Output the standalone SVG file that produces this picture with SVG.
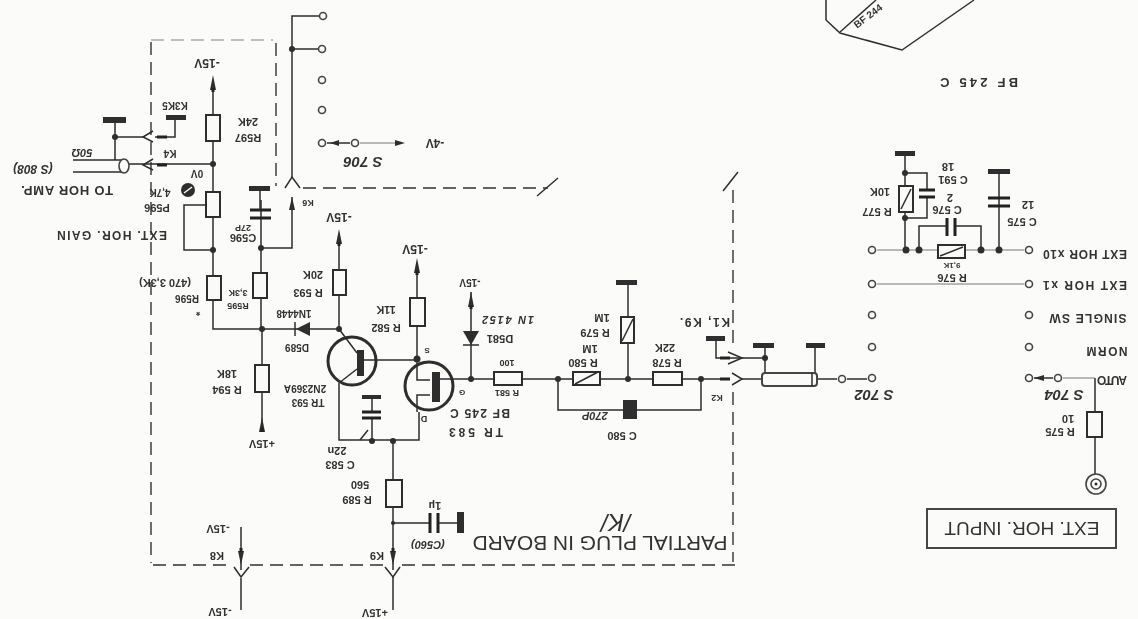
<svg xmlns="http://www.w3.org/2000/svg" width="1138" height="619" viewBox="0 0 1138 619">
<style>
text{font-family:"Liberation Sans",Arial,sans-serif;font-size:11px;fill:#333;text-anchor:middle;dominant-baseline:central}
.b{font-weight:bold}
.w{fill:none;stroke:#2e2e2e;stroke-width:1.5}
.f{fill:none;stroke:#777;stroke-width:1}
.r{fill:#fafaf8;stroke:#2e2e2e;stroke-width:2}
.c{fill:#fafaf8;stroke:#444;stroke-width:1.6}
.g{fill:#2e2e2e}
.d{fill:none;stroke:#333;stroke-width:1.4;stroke-dasharray:13 7}
.p{fill:none;stroke:#222;stroke-width:3}
</style>
<defs>
<filter id="scan" x="0" y="0" width="100%" height="100%"><feGaussianBlur stdDeviation="0.45"/></filter>
</defs>
<rect width="1138" height="619" fill="#fbfbf9"/>
<g filter="url(#scan)">
<g id="board-outline">
<path class="d" style="stroke:#aaa" d="M151 40H273"/>
<path class="d" d="M151 42V563M276 43V186M303 188H548M733 190V345M733 392V562M153 565H232M250 565H385M402 565H735"/>
<path class="w" d="M537 196L558 178M723 191L738 172"/>
</g>
<g id="connectors">
<path class="w" d="M323 16H292V178M292 49H322"/>
<path class="w" d="M285 188L292 177L300 188"/>
<path class="w" d="M292 197V248H261M261 200V273M261 298V329"/>
<path class="w" d="M213 85V115M213 141V192M213 217V276M213 300V329H339M262 329V365M262 392V425"/>
<path class="w" d="M128 164H213M115 120V160M115 137H145M155 137H175V117"/>
<path class="w" d="M219 205H184V250H213"/>
<path class="w" d="M339 240V270M339 295V329"/>
<path class="w" d="M417 270V298M417 326V380H430M417 412V395H430M419 412V440H339V383M339 329L357 353M357 369L339 383"/>
<path class="w" d="M364 360H417"/>
<path class="w" d="M372 418V440M393 440V480M393 507V570M393 577V610M393 523H430M438 523H458"/>
<path class="w" d="M241 527V570M241 578V610"/>
<path class="w" d="M440 379H494M522 379H573M600 379H653M682 379H722M471 292V379"/>
<path class="w" d="M558 379V410H623M637 410H701V379"/>
<path class="w" d="M628 282V317M628 343V379"/>
<path class="w" d="M716 338V358H742M742 358H765M765 345V373M815 345V373M742 379H762M817 379H837M847 379H867"/>
<path class="f" d="M877 250H1024M877 284H1024"/>
<path class="w" d="M905 153V186M905 212V250M905 173H927V190M905 218H927V197M919 250V226H947M955 226H981V250M999 171V250"/>
<path class="w" d="M1095 378V412M1095 437V474M1034 378H1053"/>
<path class="f" d="M1063 378H1095M360 143H398"/>
<path class="w" d="M327 143H350"/>
</g>
<g id="arrows">
<path class="g" d="M213 75L216 90H210Z M339 229L342 244H336Z M417 258L420 273H414Z M471 292L474 307H468Z M262 417L265 432H259Z M292 197L295 210H289Z"/>
<path class="p" d="M213 88V92M339 242V246M417 271V275M471 305V309M262 428V432"/>
<path class="g" d="M405 143L395 140V146Z M330 143L339 140V146Z M1034 378L1044 375V381Z"/>
<path class="g" d="M393 565L390 551H396Z M241 565L238 551H244Z"/>
<path class="p" d="M393 552V548M241 552V548"/>
<path class="w" d="M385 567L393 577L400 567M234 567L241 577L249 567"/>
<path class="w" d="M153 131L143 137L153 142M153 159L143 165L153 170"/>
<path class="p" d="M157 137H167M157 165H167"/>
<path class="w" d="M732 373L742 379L732 385M728 352L742 358L728 364"/>
<path class="p" d="M720 379H730M720 358H730"/>
</g>
<g class="g" id="dots">
<circle cx="292" cy="49" r="3"/><circle cx="213" cy="164" r="3"/><circle cx="213" cy="250" r="3"/><circle cx="261" cy="248" r="3"/>
<circle cx="115" cy="137" r="3"/><circle cx="262" cy="329" r="3"/><circle cx="339" cy="329" r="3"/><circle cx="417" cy="359" r="3.5"/>
<circle cx="372" cy="441" r="3"/><circle cx="393" cy="441" r="3"/><circle cx="393" cy="523" r="2"/><circle cx="471" cy="379" r="3"/>
<circle cx="558" cy="379" r="3"/><circle cx="628" cy="379" r="3"/><circle cx="701" cy="379" r="3"/><circle cx="765" cy="358" r="3"/>
<circle cx="905" cy="173" r="3"/><circle cx="905" cy="218" r="3"/><circle cx="906" cy="250" r="3.5"/><circle cx="919" cy="250" r="3.5"/><circle cx="981" cy="250" r="3.5"/><circle cx="999" cy="250" r="3.5"/>
</g>
<g id="S706">
<circle class="c" cx="323" cy="16" r="3.5"/><circle class="c" cx="322" cy="49" r="3.5"/><circle class="c" cx="322" cy="80" r="3.5"/><circle class="c" cx="322" cy="110" r="3.5"/><circle class="c" cx="322" cy="143" r="3.5"/><circle class="c" cx="355" cy="143" r="3.5"/>
<text class="b" transform="rotate(180 363 162)" x="363" y="162" font-style="italic" style="font-size:15px">S 706</text>
<text transform="rotate(180 435 143)" x="435" y="143" style="font-size:12px" class="b">-4V</text>
</g>
<g id="R597"><rect class="r" x="206" y="115" width="14" height="26"/><text class="b" transform="rotate(180 248 122)" x="248" y="122">24K</text><text class="b" transform="rotate(180 248 138)" x="248" y="138">R597</text></g>
<g id="supply-top"><text class="b" transform="rotate(180 207 63)" x="207" y="63" style="font-size:12px">-15V</text><text class="b" transform="rotate(180 339 217)" x="339" y="217" style="font-size:12px">-15V</text><text class="b" transform="rotate(180 415 249)" x="415" y="249" style="font-size:12px">-15V</text><text class="b" transform="rotate(180 470 282)" x="470" y="282" style="font-size:10px">-15V</text></g>
<g id="K3K5-K4">
<rect class="g" x="166" y="115" width="20" height="5"/><rect class="g" x="103" y="117" width="23" height="6"/>
<text class="b" transform="rotate(180 175 105)" x="175" y="105" style="font-size:10px">K3K5</text><text class="b" transform="rotate(180 170 153)" x="170" y="153" style="font-size:10px">K4</text><text class="b" transform="rotate(180 197 173)" x="197" y="173" style="font-size:10px">0V</text>
</g>
<g id="coax-in">
<path class="w" d="M73 160H122M73 172H122"/><ellipse class="c" cx="124" cy="166" rx="5" ry="7"/>
<text class="b" transform="rotate(180 82 153)" x="82" y="153" font-style="italic">50Ω</text>
<text transform="rotate(180 33 169)" x="33" y="169" class="b" font-style="italic" style="font-size:12px">(S 808)</text>
<text class="b" transform="rotate(180 67 190)" x="67" y="190" textLength="92" lengthAdjust="spacing" style="font-size:13px">TO HOR AMP.</text>
</g>
<g id="P596">
<rect class="r" x="206" y="192" width="14" height="25"/><circle class="g" cx="188" cy="190" r="7"/><path d="M184 193L192 187" stroke="#fafaf8" stroke-width="1.5"/>
<text class="b" transform="rotate(180 160 192)" x="160" y="192" style="font-size:10px">4,7K</text><text class="b" transform="rotate(180 157 208)" x="157" y="208">P596</text>
<text class="b" transform="rotate(180 112 235)" x="112" y="235" textLength="110" lengthAdjust="spacing" style="font-size:12px">EXT. HOR. GAIN</text>
</g>
<g id="R596"><rect class="r" x="207" y="276" width="14" height="24"/><text class="b" transform="rotate(180 187 298)" x="187" y="298" style="font-size:10px">R596</text><text class="b" transform="rotate(180 165 283)" x="165" y="283">(470  3,3K)</text><text class="b" transform="rotate(180 198 312)" x="198" y="312">*</text></g>
<g id="C596"><rect class="g" x="249" y="186" width="21" height="5"/><path class="p" d="M250 210H271M250 218H271"/><path class="w" d="M260 191V210"/><text class="b" transform="rotate(180 243 238)" x="243" y="238">C596</text><text class="b" transform="rotate(180 243 228)" x="243" y="228" style="font-size:9px">27P</text><text class="b" transform="rotate(180 308 203)" x="308" y="203" style="font-size:9px">K6</text></g>
<g id="R595"><rect class="r" x="253" y="273" width="14" height="25"/><text class="b" transform="rotate(180 238 293)" x="238" y="293" style="font-size:9px">3,3K</text><text class="b" transform="rotate(180 238 306)" x="238" y="306" style="font-size:9px">R595</text></g>
<g id="R593"><rect class="r" x="333" y="270" width="13" height="25"/><text class="b" transform="rotate(180 313 275)" x="313" y="275">20K</text><text class="b" transform="rotate(180 308 293)" x="308" y="293">R 593</text></g>
<g id="D589"><path class="g" d="M296 329L310 322V336Z"/><path class="w" d="M295 322V336"/><text class="b" transform="rotate(180 294 313)" x="294" y="313" style="font-size:10px">1N4448</text><text class="b" transform="rotate(180 297 347)" x="297" y="347" style="font-size:10px">D589</text></g>
<g id="R594"><rect class="r" x="255" y="365" width="14" height="27"/><text class="b" transform="rotate(180 227 374)" x="227" y="374">18K</text><text class="b" transform="rotate(180 227 390)" x="227" y="390">R 594</text><text class="b" transform="rotate(180 262 444)" x="262" y="444">+15V</text></g>
<g id="TR593"><circle cx="352" cy="361" r="24" fill="none" stroke="#2e2e2e" stroke-width="3"/><rect class="g" x="357" y="350" width="7" height="26"/><text class="b" transform="rotate(180 308 402)" x="308" y="402" style="font-size:10px">TR 593</text><text class="b" transform="rotate(180 305 388)" x="305" y="388" style="font-size:10px">2N2369A</text></g>
<g id="R582"><rect class="r" x="410" y="298" width="15" height="28"/><text class="b" transform="rotate(180 386 310)" x="386" y="310">11K</text><text class="b" transform="rotate(180 386 328)" x="386" y="328">R 582</text></g>
<g id="TR583"><circle cx="429" cy="386" r="24" fill="none" stroke="#2e2e2e" stroke-width="3"/><rect class="g" x="432" y="372" width="8" height="30"/><text class="b" transform="rotate(180 427 350)" x="427" y="350" style="font-size:8px">S</text><text class="b" transform="rotate(180 424 419)" x="424" y="419" style="font-size:9px">D</text><text class="b" transform="rotate(180 462 392)" x="462" y="392" style="font-size:8px">G</text><text class="b" transform="rotate(180 480 413)" x="480" y="413" textLength="60" lengthAdjust="spacing" style="font-size:12px">BF 245 C</text><text class="b" transform="rotate(180 476 432)" x="476" y="432" textLength="54" lengthAdjust="spacing" style="font-size:12px">TR 583</text></g>
<g id="C583"><rect class="g" x="362" y="395" width="19" height="4"/><path class="p" d="M362 412H381M362 418H381"/><path class="w" d="M372 399V412M360 440L368 430"/><text class="b" transform="rotate(180 337 451)" x="337" y="451">22n</text><text class="b" transform="rotate(180 340 465)" x="340" y="465">C 583</text></g>
<g id="D581"><path class="g" d="M463 331H479L471 345Z"/><path class="w" d="M463 345H479"/><text class="b" transform="rotate(180 500 339)" x="500" y="339">D581</text><text class="b" transform="rotate(180 508 320)" x="508" y="320" textLength="52" lengthAdjust="spacing" font-style="italic">1N 4152</text></g>
<g id="R581"><rect class="r" x="494" y="372" width="28" height="13"/><text class="b" transform="rotate(180 507 363)" x="507" y="363" style="font-size:9px">100</text><text class="b" transform="rotate(180 507 393)" x="507" y="393" style="font-size:9px">R 581</text></g>
<g id="R589"><rect class="r" x="386" y="480" width="16" height="27"/><text class="b" transform="rotate(180 360 485)" x="360" y="485">560</text><text class="b" transform="rotate(180 357 500)" x="357" y="500">R 589</text></g>
<g id="C560"><path class="p" d="M430 513V533M438 513V533"/><rect class="g" x="457" y="512" width="7" height="21"/><text class="b" transform="rotate(180 435 506)" x="435" y="506">1µ</text><text class="b" transform="rotate(180 428 545)" x="428" y="545" font-style="italic">(C560)</text></g>
<g id="K8-K9"><text class="b" transform="rotate(180 217 556)" x="217" y="556">K8</text><text class="b" transform="rotate(180 377 556)" x="377" y="556">K9</text><text class="b" transform="rotate(180 218 529)" x="218" y="529">-15V</text><text class="b" transform="rotate(180 220 612)" x="220" y="612">-15V</text><text class="b" transform="rotate(180 375 613)" x="375" y="613">+15V</text></g>
<g id="R580"><rect class="r" x="573" y="372" width="27" height="13"/><path class="w" d="M575 384L598 372"/><text class="b" transform="rotate(180 583 363)" x="583" y="363">R 580</text><text class="b" transform="rotate(180 590 349)" x="590" y="349">1M</text></g>
<g id="R579"><rect class="g" x="616" y="280" width="21" height="5"/><rect class="r" x="621" y="317" width="13" height="26"/><path class="w" d="M622 341L633 319"/><text class="b" transform="rotate(180 595 333)" x="595" y="333">R 579</text><text class="b" transform="rotate(180 602 318)" x="602" y="318">1M</text></g>
<g id="R578"><rect class="r" x="653" y="372" width="29" height="13"/><text class="b" transform="rotate(180 667 363)" x="667" y="363">R 578</text><text class="b" transform="rotate(180 665 348)" x="665" y="348">22K</text></g>
<g id="C580"><rect class="g" x="623" y="400" width="14" height="19"/><text class="b" transform="rotate(180 595 416)" x="595" y="416" font-style="italic">270P</text><text class="b" transform="rotate(180 622 436)" x="622" y="436">C 580</text></g>
<g id="K1K9-K2"><rect class="g" x="706" y="336" width="19" height="5"/><text class="b" transform="rotate(180 705 322)" x="705" y="322" textLength="50" lengthAdjust="spacing" style="font-size:12px">K1, K9.</text><text class="b" transform="rotate(180 717 398)" x="717" y="398" style="font-size:9px">K2</text></g>
<g id="coax-out"><rect class="g" x="753" y="343" width="21" height="5"/><rect class="g" x="806" y="343" width="19" height="5"/><rect class="c" style="stroke-width:2" x="762" y="373" width="55" height="13" rx="3"/><path class="w" d="M812 373V386"/></g>
<g id="board-title"><text transform="rotate(180 600 543)" x="600" y="543" textLength="255" lengthAdjust="spacingAndGlyphs" style="font-size:20px">PARTIAL PLUG IN BOARD</text><text transform="rotate(180 616 522)" x="616" y="522" font-style="italic" style="font-size:24px">/K/</text></g>
<g id="S702">
<circle class="c" cx="842" cy="379" r="3.5"/><circle class="c" cx="872" cy="378" r="3.5"/><circle class="c" cx="872" cy="347" r="3.5"/><circle class="c" cx="872" cy="315" r="3.5"/><circle class="c" cx="872" cy="284" r="3.5"/><circle class="c" cx="872" cy="250" r="3.5"/>
<text class="b" transform="rotate(180 874 395)" x="874" y="395" font-style="italic" style="font-size:15px">S 702</text>
</g>
<g id="R577-C591"><rect class="g" x="895" y="151" width="20" height="5"/><rect class="r" x="899" y="186" width="14" height="26"/><path class="w" d="M901 209L911 189"/><path class="p" d="M919 190H935M919 197H935"/><text class="b" transform="rotate(180 880 192)" x="880" y="192">10K</text><text class="b" transform="rotate(180 877 212)" x="877" y="212">R 577</text><text class="b" transform="rotate(180 953 180)" x="953" y="180">C 591</text><text class="b" transform="rotate(180 948 167)" x="948" y="167">18</text></g>
<g id="C576-R576"><path class="p" d="M947 218V236M955 218V236"/><rect class="r" x="938" y="245" width="27" height="13"/><path class="w" d="M940 256L963 247"/><text class="b" transform="rotate(180 947 210)" x="947" y="210">C 576</text><text class="b" transform="rotate(180 950 198)" x="950" y="198">2</text><text class="b" transform="rotate(180 952 265)" x="952" y="265" style="font-size:8px">9,1K</text><text class="b" transform="rotate(180 952 278)" x="952" y="278">R 576</text></g>
<g id="C575"><rect class="g" x="988" y="169" width="22" height="5"/><path class="p" d="M988 198H1010M988 206H1010"/><text class="b" transform="rotate(180 1022 222)" x="1022" y="222">C 575</text><text class="b" transform="rotate(180 1028 205)" x="1028" y="205">12</text></g>
<g id="S704">
<circle class="c" cx="1029" cy="250" r="3.5"/><circle class="c" cx="1029" cy="284" r="3.5"/><circle class="c" cx="1029" cy="315" r="3.5"/><circle class="c" cx="1029" cy="347" r="3.5"/><circle class="c" cx="1029" cy="378" r="3.5"/><circle class="c" cx="1058" cy="378" r="3.5"/>
<text class="b" transform="rotate(180 1085 254)" x="1085" y="254" textLength="84" lengthAdjust="spacing" style="font-size:12px">EXT HOR x10</text>
<text class="b" transform="rotate(180 1085 285)" x="1085" y="285" textLength="84" lengthAdjust="spacing" style="font-size:12px">EXT HOR x1</text>
<text class="b" transform="rotate(180 1088 318)" x="1088" y="318" textLength="77" lengthAdjust="spacing" style="font-size:12px">SINGLE SW</text>
<text class="b" transform="rotate(180 1107 351)" x="1107" y="351" textLength="41" lengthAdjust="spacing" style="font-size:12px">NORM</text>
<text class="b" transform="rotate(180 1112 380)" x="1112" y="380" textLength="30" lengthAdjust="spacing" style="font-size:12px">AUTO</text>
<text class="b" transform="rotate(180 1064 395)" x="1064" y="395" font-style="italic" style="font-size:15px">S 704</text>
</g>
<g id="R575"><rect class="r" x="1087" y="412" width="15" height="25"/><text class="b" transform="rotate(180 1060 432)" x="1060" y="432">R 575</text><text class="b" transform="rotate(180 1068 419)" x="1068" y="419">10</text></g>
<g id="input-jack"><circle class="c" cx="1096" cy="484" r="10"/><circle class="c" cx="1096" cy="484" r="5"/><circle class="g" cx="1096" cy="484" r="1.5"/></g>
<g id="input-box"><rect x="927" y="509" width="189" height="39" fill="none" stroke="#444" stroke-width="2"/><text transform="rotate(180 1022 528)" x="1022" y="528" textLength="155" lengthAdjust="spacingAndGlyphs" style="font-size:18px">EXT. HOR. INPUT</text></g>
<g id="BF244-package"><path class="w" d="M826 0V20L840 33L902 50L974 0"/><path class="w" d="M840 32L876 0"/><text class="b" transform="rotate(-37 868 16)" x="868" y="16" style="font-size:10px">BF 244</text></g>
<text class="b" transform="rotate(180 979 82)" x="979" y="82" textLength="78" lengthAdjust="spacing" style="font-size:13px">BF 245 C</text>
</g>
</svg>
